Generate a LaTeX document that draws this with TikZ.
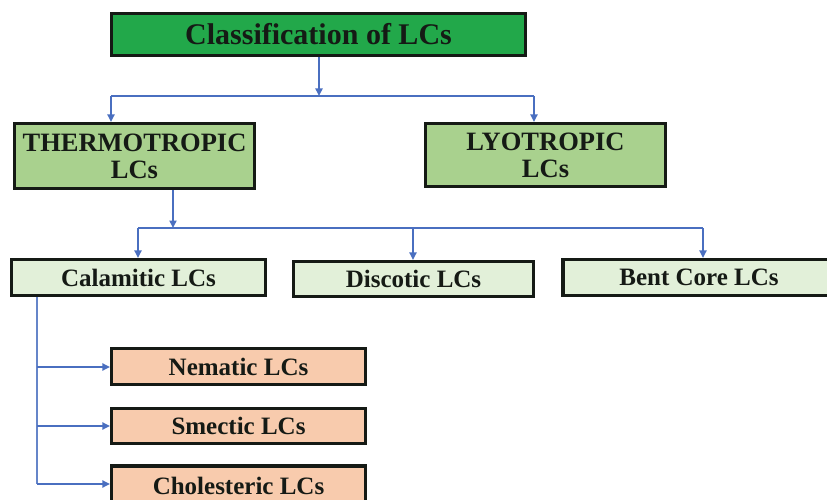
\documentclass[tikz,border=0pt]{standalone}
\usepackage{fontspec}
\setmainfont{Liberation Serif}
\usetikzlibrary{arrows.meta}
\definecolor{titlegreen}{HTML}{22A84A}
\definecolor{midgreen}{HTML}{A9D18E}
\definecolor{palegreen}{HTML}{E2F0D9}
\definecolor{peach}{HTML}{F8CBAD}
\definecolor{linkblue}{HTML}{4A6FC0}
\definecolor{inkdark}{HTML}{151A15}
\begin{document}
\begin{tikzpicture}[x=1pt,y=-1pt,
  box/.style={draw=inkdark, line width=3.1pt, inner sep=0pt, align=center,
    text=inkdark, font=\bfseries\fontsize{25}{27}\selectfont},
  titlebox/.style={box, fill=titlegreen, font=\bfseries\fontsize{30}{32}\selectfont},
  classbox/.style={box, fill=midgreen, font=\bfseries\fontsize{26.5}{27}\selectfont},
  typebox/.style={box, fill=palegreen},
  phasebox/.style={box, fill=peach},
  tip/.style={-{Triangle[length=7.5pt,width=7pt]}},
  link/.style={draw=linkblue, line width=2pt},
  thinlink/.style={draw=linkblue!85, line width=1.5pt}
]
\useasboundingbox (0,0) rectangle (827,500);
\clip (0,0) rectangle (827,500);

% boxes
\node[titlebox, minimum width=414pt, minimum height=42pt] (title) at (318.5,34.5) {Classification of LCs};
\node[classbox, minimum width=240pt, minimum height=65pt] (thermo) at (134.5,156) {THERMOTROPIC\\LCs};
\node[classbox, minimum width=240pt, minimum height=63pt] (lyo) at (545.5,155) {LYOTROPIC\\LCs};
\node[typebox, minimum width=254pt, minimum height=36pt] (cala) at (138.5,277.5) {Calamitic LCs};
\node[typebox, minimum width=240pt, minimum height=35pt] (disc) at (413.5,279) {Discotic LCs};
\node[typebox, minimum width=272pt, minimum height=36pt] (bent) at (699,277.5) {Bent Core LCs};
\node[phasebox, minimum width=254pt, minimum height=36pt] (nema) at (238.5,366.5) {Nematic LCs};
\node[phasebox, minimum width=254pt, minimum height=35pt] (smec) at (238.5,426) {Smectic LCs};
\node[phasebox, minimum width=254pt, minimum height=40pt] (chol) at (238.5,486) {Cholesteric LCs};

% junction coordinates
\coordinate (j1) at (319,96);
\coordinate (j1l) at (111,96);
\coordinate (j1r) at (534,96);
\coordinate (j2) at (173,228);
\coordinate (j2l) at (138,228);
\coordinate (j2m) at (413,228);
\coordinate (j2r) at (703,228);
\coordinate (c0) at (37,297);
\coordinate (c1) at (37,367);
\coordinate (c2) at (37,426);
\coordinate (c3) at (37,484);

% level 1
\draw[link, tip] (title.south -| j1) -- (j1);
\draw[link] (j1l) -- (j1r);
\draw[link, tip] (j1l) -- (thermo.north -| j1l);
\draw[link, tip] (j1r) -- (lyo.north -| j1r);

% level 2
\draw[link, tip] (thermo.south -| j2) -- (j2);
\draw[link] (j2l) -- (j2r);
\draw[link, tip] (j2l) -- (cala.north -| j2l);
\draw[link, tip] (j2m) -- (disc.north -| j2m);
\draw[link, tip] (j2r) -- (bent.north -| j2r);

% level 3
\draw[thinlink] (cala.south -| c0) -- (c3);
\draw[link, tip] (c1) -- (c1 -| nema.west);
\draw[link, tip] (c2) -- (c2 -| smec.west);
\draw[link, tip] (c3) -- (c3 -| chol.west);
\end{tikzpicture}
\end{document}
